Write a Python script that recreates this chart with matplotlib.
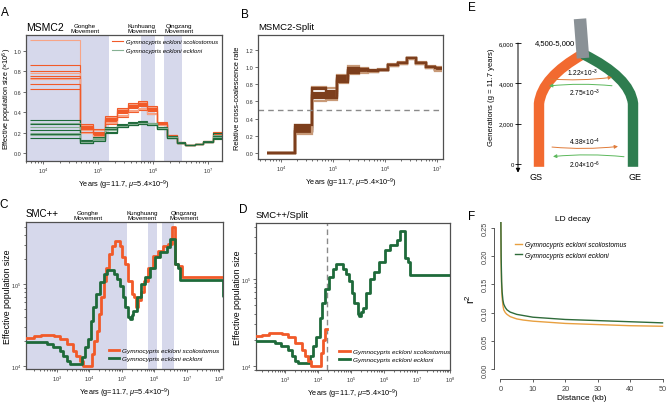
import numpy as np
import matplotlib
matplotlib.use('Agg')
import matplotlib.pyplot as plt
from matplotlib.path import Path
from matplotlib.patches import PathPatch
from matplotlib.lines import Line2D
from matplotlib.ticker import FuncFormatter

plt.rcParams['font.family'] = ['Liberation Sans', 'DejaVu Sans']
plt.rcParams['mathtext.fontset'] = 'custom'
plt.rcParams['mathtext.rm'] = 'Liberation Sans'
plt.rcParams['mathtext.it'] = 'Liberation Sans:italic'
plt.rcParams['mathtext.bf'] = 'Liberation Sans:bold'
plt.rcParams['axes.linewidth'] = 0.8
plt.rcParams['axes.edgecolor'] = '#505050'

# ---------------- data ----------------
SPECIES = ['Gymnocypris eckloni scoliostomus', 'Gymnocypris eckloni eckloni']
XLABEL = r'Years (g=11.7, $\mu$=5.4$\times$10$^{-9}$)'

# A: MSMC2 (Ne x 1e6), segment edges in years
msmc_edges = [5800, 47000, 81000, 135000, 224000, 355000, 537000, 776000, 1.17e6,
              1.78e6, 2.75e6, 3.8e6, 5.75e6, 8.1e6, 1.23e7, 1.78e7]
msmc_gs = [
    [1.10, 0.27, 0.22, 0.35, 0.43, 0.48, 0.50, 0.45, 0.29, 0.18, 0.11, 0.08, 0.09, 0.12, 0.21],
    [0.86, 0.25, 0.20, 0.33, 0.41, 0.46, 0.48, 0.43, 0.28, 0.17, 0.10, 0.08, 0.09, 0.11, 0.19],
    [0.80, 0.24, 0.18, 0.31, 0.39, 0.44, 0.46, 0.41, 0.28, 0.17, 0.10, 0.08, 0.09, 0.11, 0.17],
    [0.78, 0.22, 0.17, 0.30, 0.37, 0.42, 0.44, 0.39, 0.27, 0.16, 0.10, 0.08, 0.09, 0.11, 0.16],
    [0.75, 0.21, 0.16, 0.28, 0.35, 0.40, 0.42, 0.38, 0.27, 0.15, 0.10, 0.08, 0.09, 0.11, 0.15],
    [0.73, 0.26, 0.21, 0.34, 0.42, 0.47, 0.49, 0.44, 0.29, 0.18, 0.11, 0.08, 0.09, 0.12, 0.20],
    [0.72, 0.20, 0.15, 0.29, 0.36, 0.41, 0.43, 0.38, 0.27, 0.16, 0.10, 0.08, 0.09, 0.11, 0.14],
    [0.67, 0.23, 0.19, 0.32, 0.40, 0.45, 0.47, 0.42, 0.28, 0.17, 0.10, 0.08, 0.09, 0.11, 0.18],
    [0.63, 0.28, 0.23, 0.36, 0.44, 0.49, 0.51, 0.46, 0.30, 0.18, 0.11, 0.08, 0.09, 0.12, 0.21],
]
msmc_ge = [
    [0.32, 0.13, 0.16, 0.25, 0.28, 0.30, 0.31, 0.29, 0.25, 0.17, 0.11, 0.08, 0.09, 0.12, 0.20],
    [0.29, 0.12, 0.15, 0.24, 0.27, 0.29, 0.30, 0.29, 0.24, 0.16, 0.10, 0.08, 0.09, 0.11, 0.18],
    [0.28, 0.12, 0.14, 0.23, 0.27, 0.29, 0.30, 0.28, 0.24, 0.16, 0.10, 0.08, 0.09, 0.11, 0.17],
    [0.25, 0.11, 0.14, 0.22, 0.26, 0.28, 0.29, 0.28, 0.24, 0.16, 0.10, 0.08, 0.09, 0.11, 0.16],
    [0.22, 0.11, 0.13, 0.21, 0.26, 0.28, 0.29, 0.28, 0.23, 0.15, 0.10, 0.08, 0.09, 0.11, 0.15],
    [0.20, 0.10, 0.12, 0.20, 0.25, 0.27, 0.28, 0.27, 0.23, 0.15, 0.10, 0.08, 0.09, 0.11, 0.15],
    [0.19, 0.10, 0.13, 0.21, 0.25, 0.27, 0.28, 0.27, 0.23, 0.15, 0.10, 0.08, 0.09, 0.11, 0.14],
    [0.18, 0.11, 0.13, 0.22, 0.26, 0.28, 0.29, 0.28, 0.24, 0.16, 0.10, 0.08, 0.09, 0.11, 0.16],
    [0.15, 0.10, 0.12, 0.20, 0.25, 0.27, 0.28, 0.27, 0.23, 0.15, 0.10, 0.08, 0.09, 0.11, 0.15],
]

# B: MSMC2 relative cross-coalescence
rccr_edges = [5400, 18600, 40000, 74000, 120000, 195000, 316000, 468000, 741000,
              1.15e6, 1.78e6, 2.63e6, 3.98e6, 6.17e6, 9.12e6, 1.26e7]
rccr_reps = [
    [0, 0.33, 0.77, 0.75, 0.91, 1.01, 0.99, 0.96, 0.98, 1.03, 1.06, 1.11, 1.06, 1.01, 1.00],
    [0, 0.30, 0.74, 0.72, 0.89, 0.99, 0.98, 0.96, 0.97, 1.02, 1.05, 1.10, 1.05, 1.00, 0.99],
    [0, 0.28, 0.70, 0.70, 0.87, 0.97, 0.97, 0.95, 0.97, 1.02, 1.05, 1.10, 1.05, 1.00, 0.98],
    [0, 0.26, 0.68, 0.68, 0.86, 0.96, 0.96, 0.95, 0.97, 1.02, 1.05, 1.10, 1.05, 1.00, 0.97],
    [0, 0.25, 0.66, 0.66, 0.85, 0.95, 0.95, 0.95, 0.97, 1.02, 1.05, 1.10, 1.05, 1.00, 0.97],
    [0, 0.24, 0.64, 0.65, 0.84, 0.94, 0.94, 0.94, 0.96, 1.01, 1.04, 1.09, 1.04, 0.99, 0.96],
    [0, 0.22, 0.60, 0.62, 0.81, 0.92, 0.93, 0.94, 0.96, 1.01, 1.04, 1.09, 1.04, 0.99, 0.95],
    [0, 0.32, 0.76, 0.64, 0.83, 0.93, 0.98, 0.95, 0.97, 1.02, 1.05, 1.10, 1.05, 1.00, 0.99],
]

# C/D: SMC++ (years, Ne)
smc_gs_t = [110, 200, 320, 790, 1260, 2000, 3160, 4000, 5000, 6300, 12000, 14000, 16600,
            20000, 23400, 28000, 33000, 40000, 50000, 63000, 89000, 1.0e5, 1.23e5, 1.51e5,
            2.0e5, 2.34e5, 2.69e5, 3.16e5, 3.8e5, 4.79e5, 6.31e5, 8.91e5, 1.26e6, 1.82e6,
            2.63e6, 3.39e6, 4.37e6, 5.37e6, 7.08e6, 1.3e8]
smc_gs_ne = [21900, 22900, 24000, 23400, 21400, 18600, 15100, 13200, 11500, 10000, 14100,
             20000, 26900, 42700, 69200, 110000, 158000, 234000, 288000, 331000, 288000,
             214000, 174000, 110000, 75900, 69200, 52500, 63100, 79400, 110000, 158000,
             219000, 251000, 288000, 309000, 501000, 174000, 166000, 120000, 120000]
smc_ge_t = [110, 300, 500, 760, 1230, 1580, 2000, 2500, 5900, 7200, 8900, 11200, 12900,
            15800, 20900, 28200, 34700, 56200, 70800, 87100, 1.07e5, 1.26e5, 1.58e5,
            1.78e5, 2.0e5, 2.24e5, 2.88e5, 3.8e5, 5.13e5, 7.24e5, 1.05e6, 1.48e6, 2.4e6,
            3.02e6, 4.27e6, 5.25e6, 6.31e6, 1.25e8, 1.35e8]
smc_ge_ne = [19500, 19500, 18600, 17000, 15100, 13200, 11500, 10700, 12900, 17000, 21400,
             35500, 52500, 75900, 105000, 132000, 148000, 132000, 115000, 95500, 69200,
             52500, 39800, 37200, 41700, 46800, 69200, 100000, 120000, 158000, 214000,
             245000, 282000, 355000, 174000, 158000, 112000, 70800, 70800]
split_year = 1.9e4
smc_xticks = [1e3, 1e4, 1e5, 1e6, 1e7, 1e8]
smc_yticks = [1e4, 1e5]

# movement periods (years)
bands_A = [(1e3, 1.6e5), (6.0e5, 1.1e6), (1.6e6, 3.4e6)]
bands_C = [(10, 1.4e5), (6.3e5, 1.2e6), (1.7e6, 4.0e6)]
movements = ['Gonghe\nMovement', 'Kunhuang\nMovement', 'Qingzang\nMovement']
movements_C = ['Gonghe\nMovement', 'Kunghuang\nMovement', 'Qingzang\nMovement']

# E: model
split_range = '4,500-5,000'
mig_up = [r'1.22$\times$10$^{-3}$', r'2.75$\times$10$^{-3}$']
mig_low = [r'4.38$\times$10$^{-4}$', r'2.04$\times$10$^{-6}$']
gen_ticks = [0, 2000, 4000, 6000]

# F: LD decay
ld_kb = [0.02, 0.1, 0.2, 0.35, 0.5, 0.75, 1, 1.5, 2, 3, 5, 7, 10, 15, 20, 25, 30, 35, 40, 45, 50]
ld_gs = [0.40, 0.27, 0.19, 0.145, 0.127, 0.113, 0.105, 0.100, 0.097, 0.093, 0.089, 0.087,
         0.085, 0.083, 0.081, 0.080, 0.079, 0.078, 0.077, 0.0765, 0.076]
ld_ge = [0.40, 0.28, 0.20, 0.155, 0.137, 0.122, 0.115, 0.109, 0.105, 0.101, 0.097, 0.095,
         0.092, 0.090, 0.088, 0.087, 0.086, 0.085, 0.084, 0.083, 0.082]

ORANGE = '#f15a29'
ORANGE_L = '#f7a487'
GREEN = '#1e6a3a'
GREEN_L = '#86b193'
SHADE = '#d6d8eb'
BROWN = '#7d3e1c'
BROWN_L = '#c89a78'

W, H = 669, 410
fig = plt.figure(figsize=(W / 100, H / 100), dpi=100)


def px_axes(x0, y0, x1, y1):
    return fig.add_axes([x0 / W, 1 - y1 / H, (x1 - x0) / W, (y1 - y0) / H])


def style_box(ax, fs=4):
    ax.tick_params(which='both', labelsize=fs, length=2, width=0.5, pad=1.5, colors='#333333')
    ax.tick_params(which='minor', length=1.2)
    for s in ax.spines.values():
        s.set_linewidth(0.9)


# ---------------- A ----------------
axA = px_axes(26, 36, 222, 162)
for lo, hi in bands_A:
    axA.axvspan(lo, hi, color=SHADE, lw=0, zorder=0)
for i, rep in enumerate(msmc_gs):
    axA.stairs(rep, msmc_edges, baseline=None, color=ORANGE if i % 3 else ORANGE_L, lw=0.8)
for i, rep in enumerate(msmc_ge):
    axA.stairs(rep, msmc_edges, baseline=None, color=GREEN if i % 2 == 0 else GREEN_L, lw=0.8)
axA.set_xscale('log')
axA.set_xlim(4900, 1.8e7)
axA.set_ylim(-0.078, 1.153)
axA.set_xticks([1e4, 1e5, 1e6, 1e7])
axA.set_yticks([0, 0.2, 0.4, 0.6, 0.8, 1.0])
axA.yaxis.set_major_formatter(FuncFormatter(lambda v, p: f'{v:.1f}'))
style_box(axA)
axA.set_ylabel(r'Effective population size ($\times$10$^{6}$)', fontsize=5.2)
axA.yaxis.set_label_coords(-0.062, 0.5)
axA.set_xlabel(XLABEL, fontsize=5.3, labelpad=2)
axA.text(0.0, 1.02, 'MSMC2', transform=axA.transAxes, fontsize=7.5, ha='left', va='bottom')
for xf, lab in zip([0.30, 0.59, 0.78], movements):
    axA.text(xf, 1.015, lab, transform=axA.transAxes, fontsize=4.5, ha='center', va='bottom',
             linespacing=1.0)
hA = [Line2D([], [], color=ORANGE, lw=0.8), Line2D([], [], color=GREEN_L, lw=0.8)]
axA.legend(hA, SPECIES, loc='upper right', bbox_to_anchor=(1.0, 1.0), frameon=False,
           prop={'size': 4.3, 'style': 'italic'}, handlelength=1.8, handletextpad=0.5,
           labelspacing=0.6, borderaxespad=0.3)

# ---------------- B ----------------
axB = px_axes(258, 36, 443, 160)
for i, rep in enumerate(rccr_reps):
    outer = i in (0, len(rccr_reps) - 2)
    axB.stairs(rep, rccr_edges, baseline=None, color=BROWN_L if outer else BROWN, lw=1.6)
axB.axhline(0.5, color='#8a8a8a', lw=1.0, ls=(0, (4, 3)))
axB.set_xscale('log')
axB.set_xlim(3600, 1.3e7)
axB.set_ylim(-0.07, 1.372)
axB.set_xticks([1e4, 1e5, 1e6, 1e7])
axB.set_yticks([0, 0.2, 0.4, 0.6, 0.8, 1.0, 1.2])
axB.yaxis.set_major_formatter(FuncFormatter(lambda v, p: f'{v:.1f}'))
style_box(axB)
axB.set_ylabel('Relative cross-coalescence rate', fontsize=5.3)
axB.yaxis.set_label_coords(-0.09, 0.5)
axB.set_xlabel(XLABEL, fontsize=5.3, labelpad=2)
axB.text(0.0, 1.03, 'MSMC2-Split', transform=axB.transAxes, fontsize=6.8, ha='left', va='bottom')

# ---------------- C ----------------
axC = px_axes(26, 223, 223, 370)
for lo, hi in bands_C:
    axC.axvspan(lo, hi, color=SHADE, lw=0, zorder=0)
axC.step(smc_gs_t, smc_gs_ne, where='post', color=ORANGE, lw=2.0, zorder=3)
axC.step(smc_ge_t, smc_ge_ne, where='post', color=GREEN, lw=2.0, zorder=3)
axC.set_xscale('log')
axC.set_yscale('log')
axC.set_xlim(112, 1.29e8)
axC.set_ylim(9190, 5.7e5)
axC.set_xticks(smc_xticks)
axC.set_yticks(smc_yticks)
style_box(axC)
axC.set_ylabel('Effective population size', fontsize=6.3)
axC.yaxis.set_label_coords(-0.07, 0.5)
axC.set_xlabel(XLABEL, fontsize=5.3, labelpad=2)
axC.text(0.0, 1.03, 'SMC++', transform=axC.transAxes, fontsize=7, ha='left', va='bottom')
for xf, lab in zip([0.315, 0.59, 0.80], movements_C):
    axC.text(xf, 1.015, lab, transform=axC.transAxes, fontsize=4.5, ha='center', va='bottom',
             linespacing=1.0)
hC = [Line2D([], [], color=ORANGE, lw=2.0), Line2D([], [], color=GREEN, lw=2.0)]
axC.legend(hC, SPECIES, loc='lower right', bbox_to_anchor=(1.0, 0.03), frameon=False,
           prop={'size': 4.6, 'style': 'italic'}, handlelength=1.6, handletextpad=0.5,
           labelspacing=0.3, borderaxespad=0.2)

# ---------------- D ----------------
axD = px_axes(256, 224, 450, 371)
gs_t = np.array(smc_gs_t)
gs_ne = np.array(smc_gs_ne)
keep = gs_t < split_year
d_t = np.append(gs_t[keep], split_year)
d_ne = np.append(gs_ne[keep], gs_ne[keep][-1])
axD.step(smc_ge_t, smc_ge_ne, where='post', color=GREEN, lw=2.0, zorder=3)
axD.step(d_t, d_ne, where='post', color=ORANGE, lw=2.0, zorder=4)
axD.axvline(split_year, color='#8a8a8a', lw=1.0, ls=(0, (4, 2.5)), zorder=2)
axD.set_xscale('log')
axD.set_yscale('log')
axD.set_xlim(132, 1.0e8)
axD.set_ylim(9000, 4.4e5)
axD.set_xticks(smc_xticks)
axD.set_yticks(smc_yticks)
style_box(axD)
axD.set_ylabel('Effective population size', fontsize=6.3)
axD.yaxis.set_label_coords(-0.07, 0.5)
axD.set_xlabel(XLABEL, fontsize=5.3, labelpad=2)
axD.text(0.0, 1.03, 'SMC++/Split', transform=axD.transAxes, fontsize=6.8, ha='left', va='bottom')
axD.legend(hC, SPECIES, loc='lower right', bbox_to_anchor=(1.02, 0.03), frameon=False,
           prop={'size': 4.6, 'style': 'italic'}, handlelength=1.6, handletextpad=0.5,
           labelspacing=0.3, borderaxespad=0.2)

# ---------------- E ----------------
axE = px_axes(518, 5, 669, 190)
axE.set_xlim(0, 151)
axE.set_ylim(-1240, 7934)
for s in ['top', 'right', 'bottom', 'left']:
    axE.spines[s].set_visible(False)
axE.set_xticks([])
axE.set_yticks(gen_ticks)
axE.yaxis.set_major_formatter(FuncFormatter(lambda v, p: f'{int(v):,}'))
axE.tick_params(axis='y', direction='inout', length=4, width=0.6, labelsize=4.3, pad=1)
axE.annotate('', xy=(0, -430), xytext=(0, gen_ticks[-1]),
             arrowprops=dict(arrowstyle='-|>', color='black', lw=0.7, mutation_scale=6,
                             shrinkA=0, shrinkB=0))
axE.set_ylabel('Generations (g = 11.7 years)', fontsize=5.5, labelpad=3)

top_x, top_g = 65, 5450
gs_x, ge_x = 21, 115
orange_path = Path([(top_x, top_g), (gs_x + 3, 4300), (gs_x, 3000), (gs_x, -140)],
                   [Path.MOVETO, Path.CURVE3, Path.CURVE3, Path.LINETO])
green_path = Path([(top_x, top_g), (ge_x - 3, 4300), (ge_x, 3000), (ge_x, -140)],
                  [Path.MOVETO, Path.CURVE3, Path.CURVE3, Path.LINETO])
axE.add_patch(PathPatch(orange_path, fill=False, lw=7.5, edgecolor='#f26a30', capstyle='butt'))
axE.add_patch(PathPatch(green_path, fill=False, lw=7.5, edgecolor='#2e7d4f', capstyle='butt'))
axE.plot([top_x, top_x - 3], [top_g - 200, 7200], color='#8a9196', lw=9,
         solid_capstyle='butt', zorder=3)
axE.text(37, 6000, split_range, fontsize=5.5, ha='center', va='center')

arrow_or = dict(arrowstyle='-|>', color='#e07b39', lw=0.7, mutation_scale=5, shrinkA=0, shrinkB=0)
arrow_gr = dict(arrowstyle='-|>', color='#5cb85c', lw=0.7, mutation_scale=5, shrinkA=0, shrinkB=0)
axE.annotate('', xy=(94, 4300), xytext=(31, 4215),
             arrowprops=dict(arrow_or, connectionstyle='arc3,rad=0.05'))
axE.annotate('', xy=(31, 3870), xytext=(94, 3880),
             arrowprops=dict(arrow_gr, connectionstyle='arc3,rad=0.05'))
axE.text(65, 4530, mig_up[0], fontsize=4.8, ha='center', va='center')
axE.text(67, 3570, mig_up[1], fontsize=4.8, ha='center', va='center')
axE.annotate('', xy=(100, 870), xytext=(34, 840),
             arrowprops=dict(arrow_or, connectionstyle='arc3,rad=0.05'))
axE.annotate('', xy=(35, 370), xytext=(106, 360),
             arrowprops=dict(arrow_gr, connectionstyle='arc3,rad=0.05'))
axE.text(67, 1110, mig_low[0], fontsize=4.8, ha='center', va='center')
axE.text(67, 0, mig_low[1], fontsize=4.8, ha='center', va='center')
axE.text(gs_x - 3, -600, 'GS', fontsize=6.5, ha='center', va='center')
axE.text(ge_x + 2, -600, 'GE', fontsize=6.5, ha='center', va='center')

# ---------------- F ----------------
axF = px_axes(494, 223, 669, 376)
axF.plot(ld_kb, ld_gs, color='#e8a040', lw=1.0)
axF.plot(ld_kb, ld_ge, color='#2f6b3a', lw=1.0)
axF.set_xlim(-2, 52)
axF.set_ylim(-0.01, 0.26)
for s in ['top', 'right']:
    axF.spines[s].set_visible(False)
axF.spines['left'].set_bounds(0, 0.25)
axF.spines['bottom'].set_bounds(0, 50)
axF.spines['bottom'].set_position(('outward', 3))
for s in ['left', 'bottom']:
    axF.spines[s].set_color('#555555')
    axF.spines[s].set_linewidth(0.7)
axF.set_xticks([0, 10, 20, 30, 40, 50])
axF.set_yticks([0, 0.05, 0.10, 0.15, 0.20, 0.25])
axF.yaxis.set_major_formatter(FuncFormatter(lambda v, p: f'{v:.2f}'))
axF.tick_params(labelsize=5.3, length=2.5, width=0.6, pad=1.5, colors='#444444')
for lab in axF.get_yticklabels():
    lab.set_rotation(90)
    lab.set_va('center')
axF.set_xlabel('Distance (kb)', fontsize=6, labelpad=2)
axF.set_ylabel(r'r$^{2}$', fontsize=8, labelpad=3)
axF.text(0.45, 1.0, 'LD decay', transform=axF.transAxes, fontsize=6, ha='center', va='bottom')
hF = [Line2D([], [], color='#e8a040', lw=1.0), Line2D([], [], color='#2f6b3a', lw=1.0)]
axF.legend(hF, SPECIES, loc='upper left', bbox_to_anchor=(0.1, 0.9), frameon=False,
           prop={'size': 4.8, 'style': 'italic'}, handlelength=1.0, handletextpad=0.5,
           labelspacing=0.5, borderaxespad=0.2)

# panel letters
for lab, x, y in [('A', 5, 13), ('B', 245, 15), ('C', 4, 205), ('D', 243, 210),
                  ('E', 472, 8), ('F', 472, 217)]:
    fig.text(x / W, 1 - y / H, lab, fontsize=8.5, ha='center', va='center')

fig.savefig('out.png', dpi=100)
